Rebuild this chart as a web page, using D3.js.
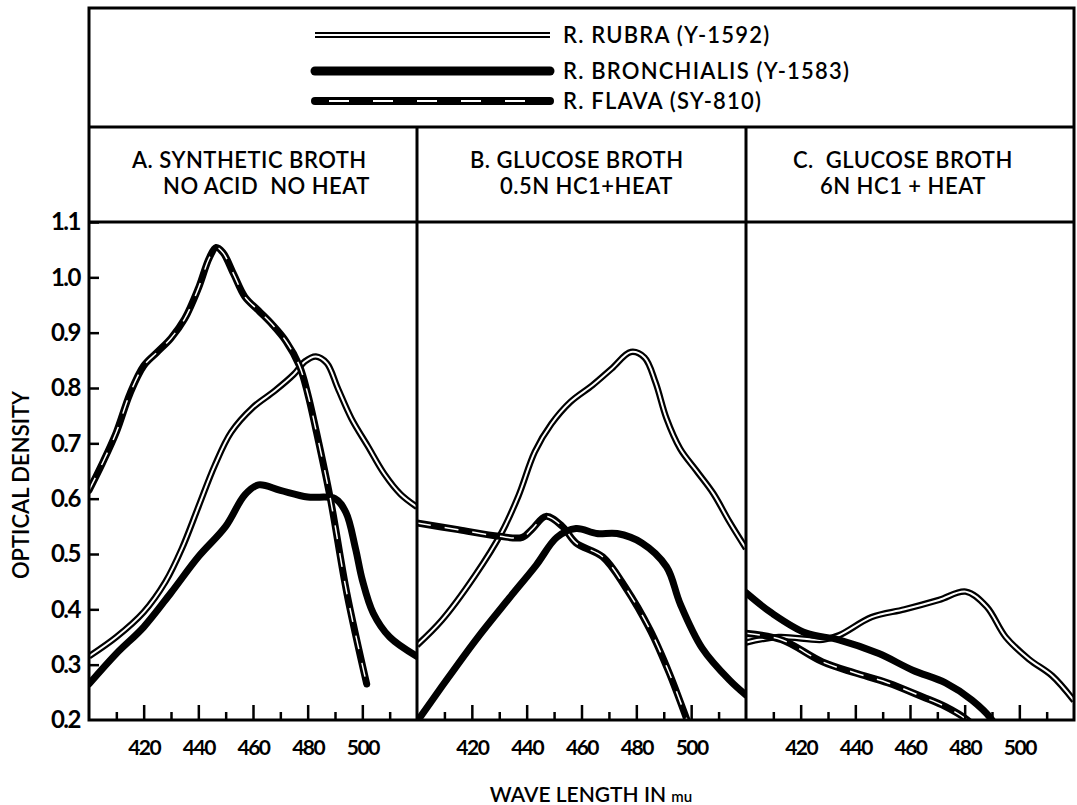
<!DOCTYPE html>
<html>
<head>
<meta charset="utf-8">
<script src="https://cdn.jsdelivr.net/npm/d3@7"></script>
<style>
  body { margin: 0; background: #fff; }
  text { font-family: Lato, "Noto Sans", sans-serif; fill: #000; white-space: pre; }
</style>
</head>
<body>
<div id="chart"></div>
<script>
// series names shown in the legend
var seriesNames = ["R. RUBRA (Y-1592)", "R. BRONCHIALIS (Y-1583)", "R. FLAVA (SY-810)"];
var panelTitles = [
    ["A. SYNTHETIC BROTH", "NO ACID  NO HEAT"],
    ["B. GLUCOSE BROTH", "0.5N HC1+HEAT"],
    ["C.  GLUCOSE BROTH", "6N HC1 + HEAT"]
];
var yTicks = [0.2, 0.3, 0.4, 0.5, 0.6, 0.7, 0.8, 0.9, 1.0, 1.1];
var xMajor = [420, 440, 460, 480, 500];
var xMinor = [410, 430, 450, 470, 490, 510];

// [wavelength, optical density]
var rubraA = [[400,.315],[410,.35],[420,.395],[428,.45],[434,.51],[440,.585],[446,.66],[452,.72],[460,.765],[468,.795],[475,.825],[479,.848],[483,.857],[487,.845],[491,.8],[496,.745],[502,.695],[508,.645],[514,.608],[520,.585]];
var bronchA = [[400,.265],[410,.32],[420,.368],[430,.43],[440,.495],[450,.55],[457,.607],[462,.625],[470,.615],[480,.603],[490,.6],[494,.575],[497.5,.51],[500,.453],[504,.393],[510,.35],[520,.315]];
var flavaA = [[400,.615],[405,.665],[410,.72],[415,.79],[420,.84],[425,.865],[430,.89],[435,.925],[440,.98],[444,1.035],[446.5,1.054],[449,1.045],[453,1.005],[457,.965],[462,.94],[467,.915],[472,.885],[477,.84],[480,.79],[483,.725],[488.3,.6],[494.3,.43],[501.6,.265]];

var rubraB = [[400,.335],[409,.38],[421,.46],[431,.54],[437,.605],[443,.685],[449,.735],[456,.775],[464,.805],[471,.835],[478,.865],[483,.855],[487,.81],[491,.745],[496,.69],[502,.65],[508,.61],[514,.558],[520,.51]];
var bronchB = [[399,.19],[409,.26],[421.5,.345],[433.6,.42],[443.5,.48],[451,.53],[458,.546],[465.5,.537],[473,.537],[482,.52],[491,.477],[496,.41],[504,.33],[514,.272],[520,.245]];
var flavaB = [[400,.556],[415,.544],[430,.532],[438.4,.53],[442,.545],[447,.568],[453,.55],[458,.52],[467.7,.495],[476,.44],[485,.363],[492,.285],[498.5,.2],[500,.18]];

var rubraC = [[400,.34],[412,.35],[428,.345],[434,.353],[446,.386],[458,.4],[470.6,.417],[480.4,.432],[488,.405],[495,.35],[503.5,.31],[512,.28],[520,.235]];
var bronchC = [[400,.43],[409.5,.393],[422,.357],[434,.345],[448.6,.32],[461,.29],[473,.267],[482.6,.236],[490,.2],[492,.18]];
var flavaC = [[400,.357],[413,.345],[428,.305],[440,.285],[452,.267],[464.5,.242],[473,.224],[481,.2],[483,.19]];

var panelData = [
    { rubra: rubraA, bronch: bronchA, flava: flavaA },
    { rubra: rubraB, bronch: bronchB, flava: flavaB },
    { rubra: rubraC, bronch: bronchC, flava: flavaC }
];

function init() {
    var w = 1077, h = 805;
    var left = 89, right = 1074, top = 8;
    var legendBottom = 127, plotTop = 222, plotBottom = 720;
    var panelEdges = [89, 417, 746, 1074];
    var titleX = [[132, 163], [470, 500], [793, 820]];

    var svg = d3.select("#chart").append("svg")
        .attr("width", w)
        .attr("height", h);

    var y = d3.scaleLinear().domain([0.2, 1.1]).range([plotBottom, plotTop]);

    var line = d3.line().curve(d3.curveCatmullRom.alpha(0.5));

    // style of each curve, drawn as stacked strokes
    function drawCurve(g, pts, kind, x) {
        line.x(function(d) { return x(d[0]); }).y(function(d) { return y(d[1]); });
        if (kind == "rubra") {
            g.append("path").attr("d", line(pts)).attr("fill", "none").attr("stroke", "#000").attr("stroke-width", 6.5);
            g.append("path").attr("d", line(pts)).attr("fill", "none").attr("stroke", "#fff").attr("stroke-width", 2);
        } else if (kind == "bronch") {
            g.append("path").attr("d", line(pts)).attr("fill", "none").attr("stroke", "#000").attr("stroke-width", 7).attr("stroke-linecap", "round");
        } else {
            g.append("path").attr("d", line(pts)).attr("fill", "none").attr("stroke", "#000").attr("stroke-width", 7).attr("stroke-linecap", "round");
            g.append("path").attr("d", line(pts)).attr("fill", "none").attr("stroke", "#fff").attr("stroke-width", 1.5).attr("stroke-dasharray", "14,14");
        }
    }

    panelData.forEach(function(p, i) {
        var x0 = panelEdges[i], x1 = panelEdges[i + 1];
        var x = d3.scaleLinear().domain([400, 520]).range([x0, x1]);

        svg.append("clipPath").attr("id", "clip" + i)
            .append("rect").attr("x", x0).attr("y", plotTop).attr("width", x1 - x0).attr("height", plotBottom - plotTop);

        var g = svg.append("g").attr("clip-path", "url(#clip" + i + ")");
        drawCurve(g, p.rubra, "rubra", x);
        drawCurve(g, p.bronch, "bronch", x);
        drawCurve(g, p.flava, "flava", x);

        // inward ticks on the bottom
        var major = svg.append("g").attr("transform", "translate(0," + plotBottom + ")")
            .call(d3.axisBottom(x).tickValues(xMajor).tickSize(-15).tickPadding(20).tickFormat(d3.format("d")));
        major.selectAll("text").attr("font-size", 21).attr("font-weight", 700).attr("letter-spacing", -1.5);
        var minor = svg.append("g").attr("transform", "translate(0," + plotBottom + ")")
            .call(d3.axisBottom(x).tickValues(xMinor).tickSize(-8).tickFormat(""));
        svg.selectAll(".domain").remove();
        svg.selectAll(".tick line").attr("stroke-width", 2.5);

        // two title lines per panel
        svg.append("text")
            .attr("x", titleX[i][0]).attr("y", 168)
            .attr("font-size", 22).attr("font-weight", 600).attr("letter-spacing", 0.5)
            .text(panelTitles[i][0]);
        svg.append("text")
            .attr("x", titleX[i][1]).attr("y", 194)
            .attr("font-size", 22).attr("font-weight", 600).attr("letter-spacing", 0.5)
            .text(panelTitles[i][1]);
    });

    // y axis with inward ticks
    var yAxis = svg.append("g").attr("transform", "translate(" + left + ",0)")
        .call(d3.axisLeft(y).tickValues(yTicks).tickSize(-10).tickPadding(9).tickFormat(d3.format(".1f")));
    yAxis.select(".domain").remove();
    yAxis.selectAll(".tick line").attr("stroke-width", 2.5);
    yAxis.selectAll("text").attr("font-size", 24).attr("font-weight", 700).attr("letter-spacing", -1.5);
    yAxis.selectAll(".tick").filter(function(d) { return d == 0.2; }).select("line").remove();

    // frame
    var frame = svg.append("g").attr("stroke", "#000").attr("stroke-width", 3).attr("fill", "none");
    frame.append("rect").attr("x", left).attr("y", top).attr("width", right - left).attr("height", plotBottom - top);
    frame.append("line").attr("x1", left).attr("x2", right).attr("y1", legendBottom).attr("y2", legendBottom);
    frame.append("line").attr("x1", left).attr("x2", right).attr("y1", plotTop).attr("y2", plotTop);
    [panelEdges[1], panelEdges[2]].forEach(function(px) {
        frame.append("line").attr("x1", px).attr("x2", px).attr("y1", legendBottom).attr("y2", plotBottom);
    });

    // legend
    var legY = [35, 71, 101];
    var kinds = ["rubra", "bronch", "flava"];
    var lx = d3.scaleLinear().domain([0, 1]).range([315, 550]);
    seriesNames.forEach(function(name, i) {
        var lg = svg.append("g").attr("transform", "translate(0," + legY[i] + ")");
        var path = "M" + lx(0) + ",0H" + lx(1);
        if (kinds[i] == "rubra") {
            lg.append("path").attr("d", path).attr("stroke", "#000").attr("stroke-width", 6);
            lg.append("path").attr("d", path).attr("stroke", "#fff").attr("stroke-width", 2);
        } else if (kinds[i] == "bronch") {
            lg.append("path").attr("d", path).attr("stroke", "#000").attr("stroke-width", 9).attr("stroke-linecap", "round");
        } else {
            lg.append("path").attr("d", path).attr("stroke", "#000").attr("stroke-width", 8).attr("stroke-linecap", "round");
            lg.append("path").attr("d", "M" + (lx(0) + 14) + ",0H" + (lx(1) - 10)).attr("stroke", "#fff").attr("stroke-width", 2).attr("stroke-dasharray", "20,24");
        }
        lg.append("text").attr("x", 563).attr("y", 8).attr("font-size", 22).attr("font-weight", 600).attr("letter-spacing", 1.2).text(name);
    });

    // axis titles
    svg.append("text")
        .attr("transform", "translate(29,485) rotate(-90)")
        .attr("text-anchor", "middle")
        .attr("font-size", 22)
        .attr("font-weight", 600)
        .text("OPTICAL DENSITY");

    var xt = svg.append("text")
        .attr("x", 591)
        .attr("y", 802)
        .attr("text-anchor", "middle")
        .attr("font-size", 21)
        .attr("font-weight", 600);
    xt.append("tspan").text("WAVE LENGTH IN ");
    xt.append("tspan").attr("font-size", 15).text("mu");
}

window.onload = init;
</script>
</body>
</html>
